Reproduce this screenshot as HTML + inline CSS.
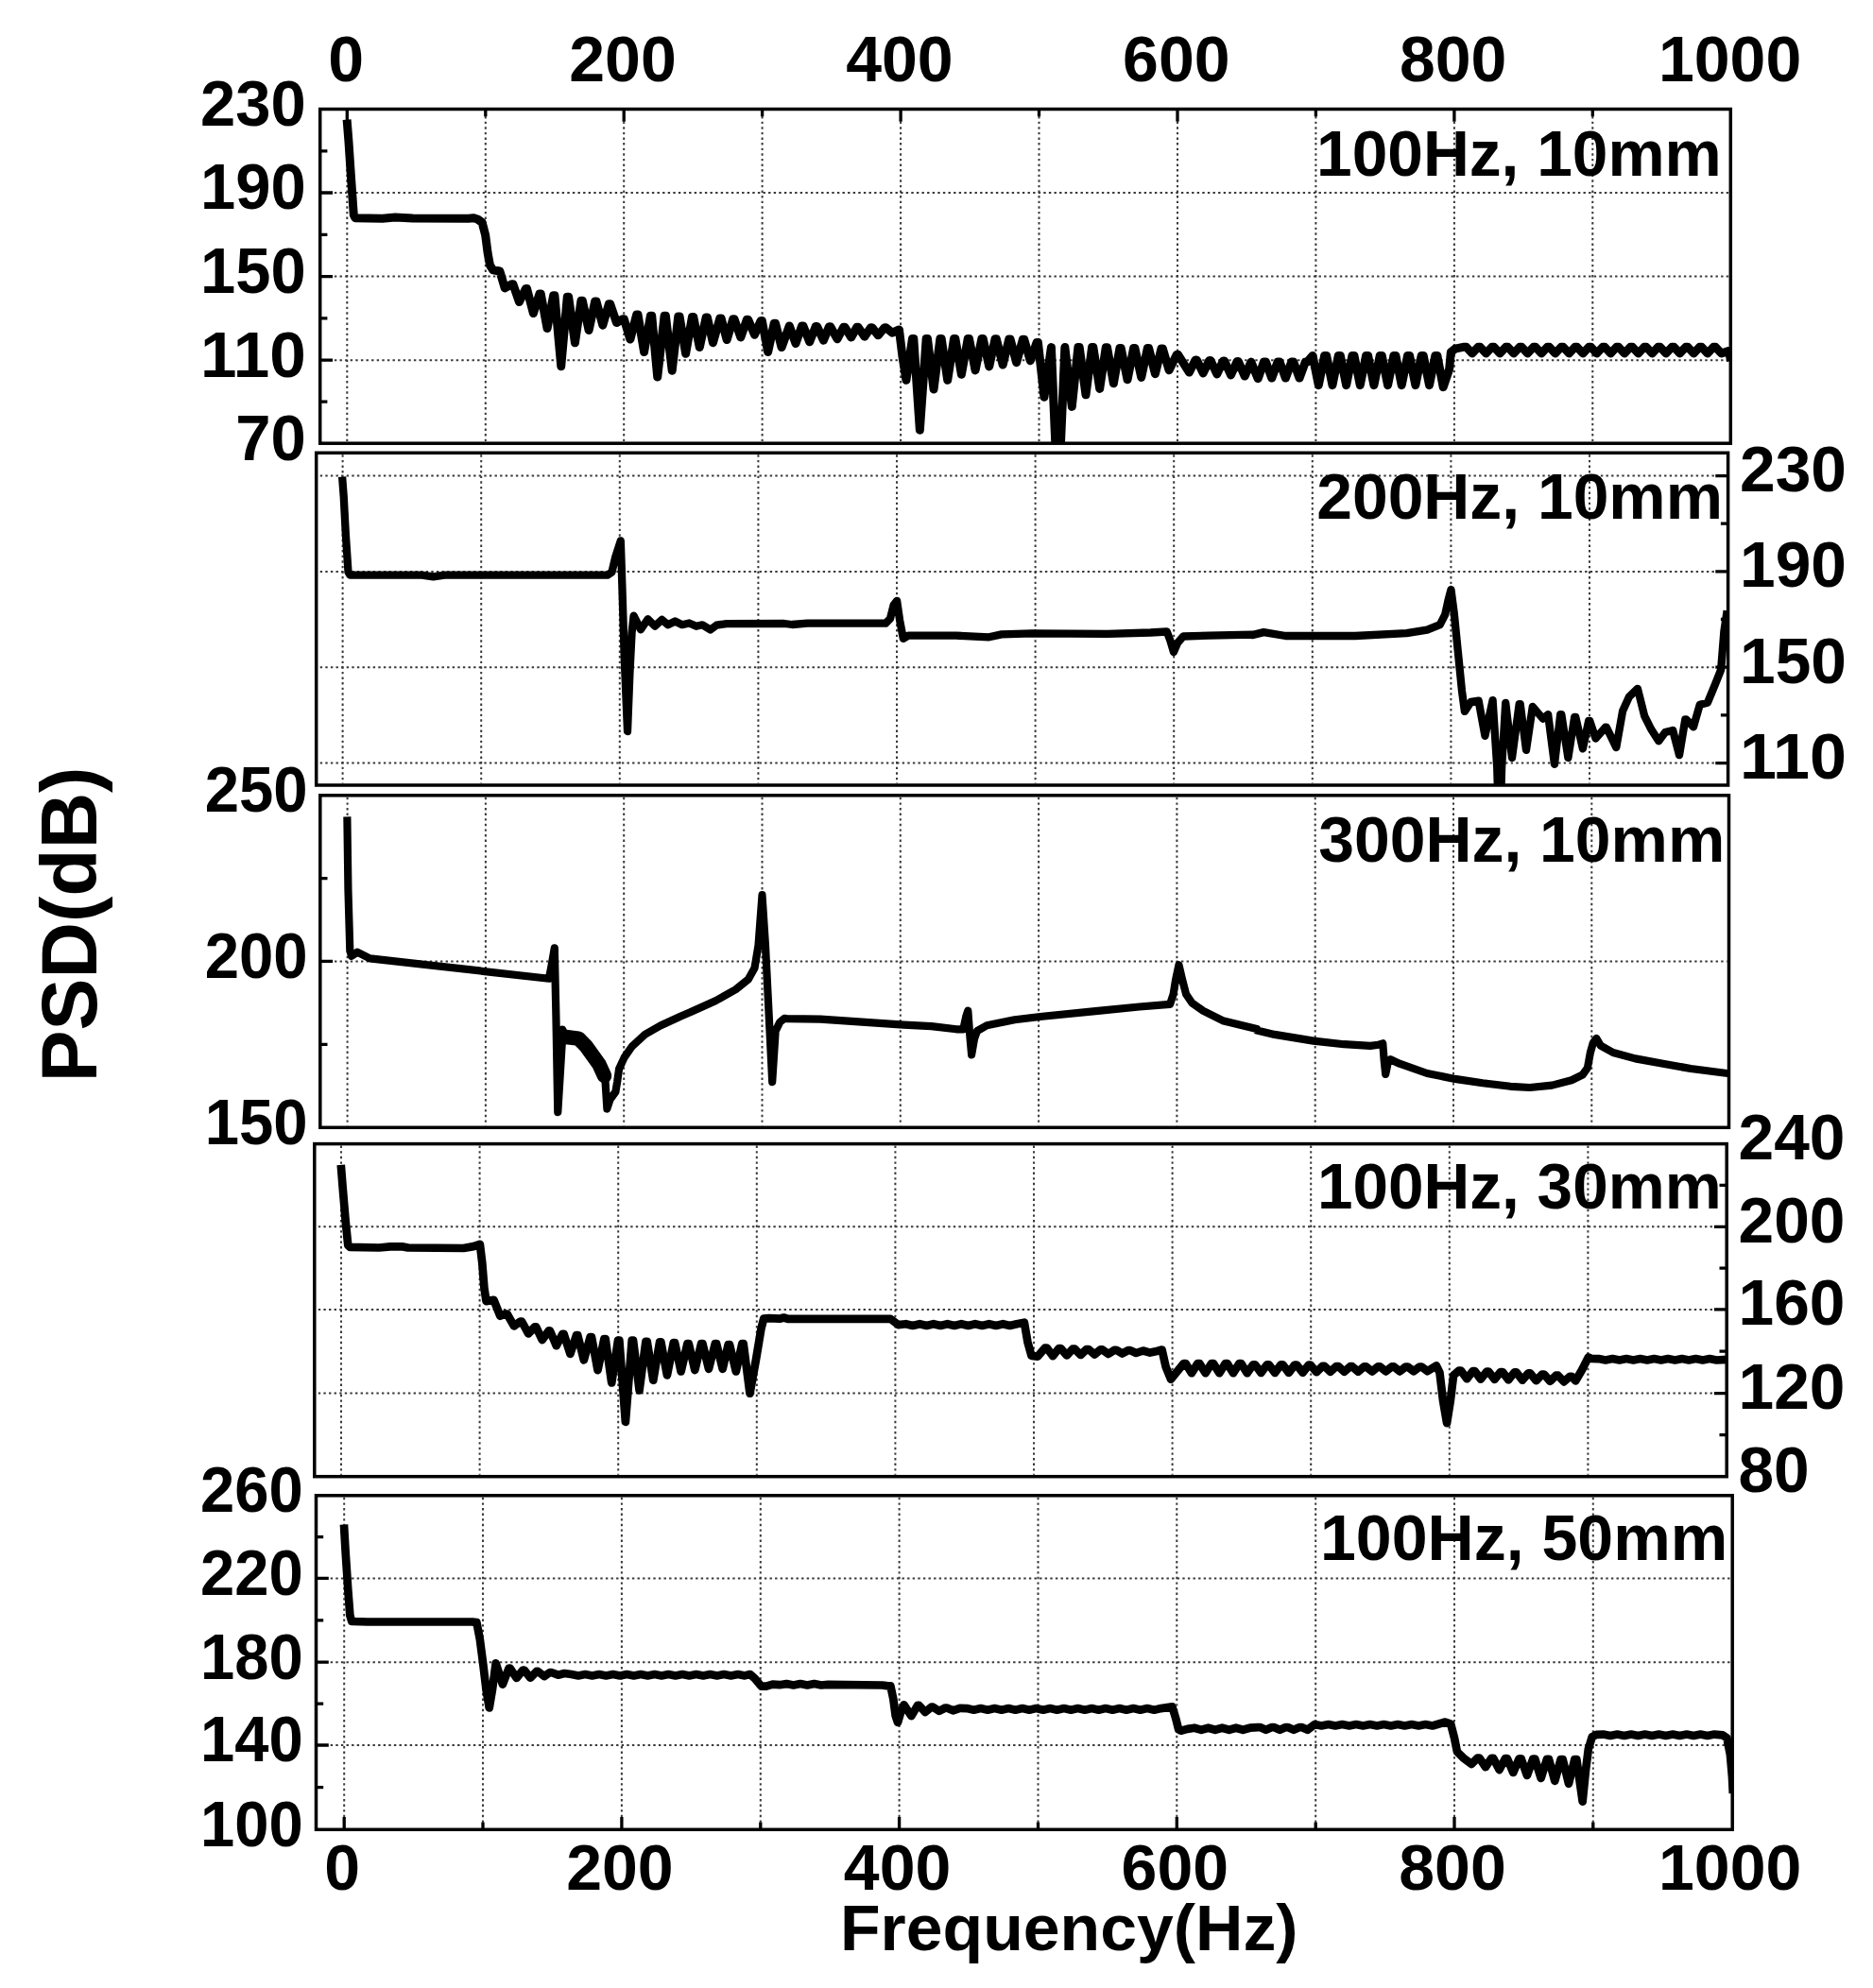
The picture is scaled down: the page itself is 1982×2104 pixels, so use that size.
<!DOCTYPE html>
<html lang="en"><head><meta charset="utf-8"><title>PSD(dB) vs Frequency(Hz)</title>
<style>html,body{margin:0;padding:0;background:#fff}body{width:1982px;height:2104px;overflow:hidden}svg{display:block}text{font-family:'Liberation Sans', Arial, Helvetica, sans-serif;font-weight:700;fill:#000}.g{stroke:#383838;stroke-width:2;stroke-dasharray:2.4 3.2;fill:none}.fr{stroke:#000;stroke-width:3.5;fill:none}.tk{stroke:#000;stroke-width:3.3;fill:none}.cv{stroke:#000;fill:none;stroke-linejoin:round;stroke-linecap:butt}</style></head><body>
<svg width="1982" height="2104" viewBox="0 0 1982 2104">
<rect x="0" y="0" width="1982" height="2104" fill="#fff"/>
<defs>
<clipPath id="c0"><rect x="338.7" y="115.5" width="1492.6" height="353.7"/></clipPath>
<clipPath id="c1"><rect x="334.7" y="479.3" width="1493.9" height="351.7"/></clipPath>
<clipPath id="c2"><rect x="338.8" y="841.8" width="1490.7" height="351.5"/></clipPath>
<clipPath id="c3"><rect x="332.8" y="1210.6" width="1494.4" height="352.1"/></clipPath>
<clipPath id="c4"><rect x="334.5" y="1582.8" width="1498.7" height="353.5"/></clipPath>
</defs>
<g id="panel1">
<path class="g" d="M367.3 117.5V467.2M513.8 117.5V467.2M660.2 117.5V467.2M806.6 117.5V467.2M953.1 117.5V467.2M1099.5 117.5V467.2M1246 117.5V467.2M1392.4 117.5V467.2M1538.9 117.5V467.2M1685.3 117.5V467.2"/>
<path class="g" d="M342.7 204H1829.3M342.7 292.6H1829.3M342.7 381.2H1829.3"/>
<g clip-path="url(#c0)"><path class="cv" stroke-width="9.0" transform="scale(1.0 1)" d="M367.11 126.6 368.97 150 371.64 190.1 374.31 227.5 375.92 230.7 404.75 231.2 418.09 230.1 436.78 230.9 495.51 231.2 500.85 230.7 505.39 232 510.19 235.5 513.66 248.8 516.07 267.5 518.47 280.8 521.67 285.7 528.88 287 534.22 304.9 541.56 300.8 542.89 300.8 549.43 319.6 556.24 305.6 557.58 305.6 564.38 331.6 570.92 311 572.26 311 579.07 347.6 585.61 312.8 586.94 312.8 593.75 387.7 600.29 314.2 601.62 314.2 608.43 362.8 614.97 318.2 616.31 318.2 623.11 349.5 629.65 319 630.99 319 637.79 344.2 644.34 321.7 645.67 321.7 652.48 341.5 659.02 337.7 660.35 337.7 666.89 359.1 673.7 332.9 675.03 332.9 681.58 372.5 688.38 334.2 689.72 334.2 695.72 399.1 703.06 334.2 704.4 334.2 711.21 392.2 717.75 335 719.08 335 725.62 374.3 732.43 335.5 733.76 335.5 740.3 367.6 747.11 336.1 748.45 336.1 754.45 362.8 761.79 336.9 763.13 336.9 769.14 359.6 775.68 337.7 777.01 337.7 783.82 357 790.36 338.2 791.69 338.2 798.5 354.3 805.04 339.5 806.37 339.5 812.65 372.5 819.19 342.2 820.52 342.2 827.06 367.6 835.34 344.9 842.01 363.6 848.55 344.9 849.89 344.9 856.7 361.8 863.24 345.4 864.57 345.4 871.38 360.2 877.38 345.7 878.72 345.7 886.06 358.8 892.6 346.2 893.93 346.2 900.74 357 906.75 346.2 908.08 346.2 914.89 356.2 921.43 346.7 922.77 346.7 929.31 354.8 936.11 346.7 937.45 346.7 944.26 352.2 951.46 348.9 954.93 377 958.94 402.3 965.48 358.5 966.81 358.5 973.35 455.2 980.16 358.5 981.49 358.5 988.04 412 994.84 358.5 996.18 358.5 1002.72 402.3 1009.52 358.5 1010.86 358.5 1017.4 396.2 1024.21 358.5 1025.54 358.5 1032.08 391.9 1038.89 358.5 1040.22 358.5 1046.76 387.9 1053.04 358.8 1054.37 358.8 1061.18 386.1 1067.72 359 1069.05 359 1075.6 383.7 1082.4 359.3 1083.74 359.3 1090.28 381.8 1097.08 362.5 1098.42 362.5 1104.96 420.2 1112.43 367.6 1118.57 510.4 1120.71 510.4 1126.85 367.6 1134.32 430.4 1140.86 367.6 1142.2 367.6 1149.01 417.8 1155.55 367.6 1156.88 367.6 1163.69 411.4 1170.23 367.8 1171.56 367.8 1178.37 405.8 1184.91 368.6 1186.25 368.6 1193.05 401.8 1199.59 368.6 1200.93 368.6 1207.74 399.4 1214.28 368.6 1215.61 368.6 1222.42 395.7 1228.96 368.9 1230.29 368.9 1237.1 391.7 1245.24 375.3 1246.58 375.3 1258.46 394.1 1265 380.9 1266.33 380.9 1273.14 394.9 1279.68 381.5 1281.01 381.5 1287.82 395.9 1294.36 382 1295.7 382 1302.5 397 1309.04 382.5 1310.38 382.5 1317.19 398.1 1323.86 383.1 1331.2 400.7 1337.42 383 1339.47 383 1345.77 400.1 1352.07 383 1354.12 383 1360.42 400.1 1366.71 383 1368.77 383 1375.06 400.1 1381.36 383 1383.41 383 1389.02 376.4 1395.32 407.7 1401.62 376.4 1403.67 376.4 1409.97 407.7 1416.27 376.4 1418.32 376.4 1424.62 407.7 1430.92 376.4 1432.97 376.4 1439.27 407.7 1445.57 376.4 1447.62 376.4 1453.92 407.7 1460.22 376.4 1462.27 376.4 1468.57 407.7 1474.87 376.4 1476.92 376.4 1483.22 407.7 1489.52 376.4 1491.57 376.4 1497.87 407.7 1504.17 376.4 1506.22 376.4 1512.52 407.7 1518.82 376.4 1520.87 376.4 1527.17 409.7 1533.68 390.5 1535.31 372.8 1539.67 369.2 1549.53 367.2 1551.58 367.2 1557.88 374 1564.18 367.2 1566.23 367.2 1572.53 374 1578.83 367.2 1580.88 367.2 1587.18 374 1593.48 367.2 1595.53 367.2 1601.83 374 1608.13 367.2 1610.18 367.2 1616.48 374 1622.78 367.2 1624.83 367.2 1631.13 374 1637.43 367.2 1639.48 367.2 1645.78 374 1652.08 367.2 1654.13 367.2 1660.43 374 1666.73 367.2 1668.78 367.2 1675.08 374 1681.38 367.2 1683.43 367.2 1689.73 374 1696.03 367.2 1698.08 367.2 1704.38 374 1710.68 367.2 1712.73 367.2 1719.03 374 1725.33 367.2 1727.38 367.2 1733.68 374 1739.98 367.2 1742.03 367.2 1748.33 374 1754.62 367.2 1756.68 367.2 1762.97 374 1769.27 367.2 1771.32 367.2 1777.62 374 1783.92 367.2 1785.97 367.2 1792.27 374 1798.57 367.2 1800.62 367.2 1806.92 374 1813.22 367.2 1815.27 367.2 1821.57 374 1829.66 371.4 1831.57 382.3"/></g>
<path class="tk" d="M338.7 204h13.3M338.7 292.6h13.3M338.7 381.2h13.3M338.7 159.8h7.7M338.7 248.3h7.7M338.7 336.9h7.7M338.7 425.2h7.7M367.3 115.5v13.3M513.8 115.5v7.7M660.2 115.5v13.3M806.6 115.5v7.7M953.1 115.5v13.3M1099.5 115.5v7.7M1246 115.5v13.3M1392.4 115.5v7.7M1538.9 115.5v13.3M1685.3 115.5v7.7"/>
<rect class="fr" x="338.7" y="115.5" width="1492.6" height="353.7"/>
<text x="212" y="132.8" font-size="68" textLength="111.7" lengthAdjust="spacingAndGlyphs">230</text>
<text x="212" y="221.3" font-size="68" textLength="111.7" lengthAdjust="spacingAndGlyphs">190</text>
<text x="212" y="309.9" font-size="68" textLength="111.7" lengthAdjust="spacingAndGlyphs">150</text>
<text x="212" y="398.5" font-size="68" textLength="111.7" lengthAdjust="spacingAndGlyphs">110</text>
<text x="249.2" y="486.5" font-size="68" textLength="74.5" lengthAdjust="spacingAndGlyphs">70</text>
<text x="1393" y="185.9" font-size="68" textLength="428.8" lengthAdjust="spacingAndGlyphs">100Hz, 10mm</text>
</g>
<g id="panel2">
<path class="g" d="M362.6 481.3V829M509.2 481.3V829M655.8 481.3V829M802.4 481.3V829M949 481.3V829M1095.6 481.3V829M1242.2 481.3V829M1388.8 481.3V829M1535.4 481.3V829M1682 481.3V829"/>
<path class="g" d="M338.7 503.6H1826.6M338.7 604.9H1826.6M338.7 706.2H1826.6M338.7 807.6H1826.6"/>
<g clip-path="url(#c1)"><path class="cv" stroke-width="8.3" transform="scale(1.0 1)" d="M362.11 504.6 363.71 525.4 365.84 565.4 368.51 605.5 370.38 608.7 446.46 608.7 458.48 610.3 470.49 608.7 642.67 608.7 647.48 605.5 651.21 589.5 656.82 572.3 658.42 621.5 660.82 698.9 664.03 774 666.43 712.3 668.57 669.5 670.58 651.7 678.05 666.3 685.53 655.2 693 662.6 700.48 655.9 706.88 661.2 714.36 657.5 721.83 661.2 729.31 659.5 736.78 662.8 743.19 661.3 751.73 666.5 758.14 661.7 768.81 660.1 830 660 838.35 661 854.36 659.7 937.12 659.7 941.92 654.9 945.66 640.2 949.13 635.8 952.07 656.2 955.81 675.8 961.15 672.7 1011.87 672.7 1046.57 674.3 1059.92 671.4 1091.95 670.3 1172.04 670.9 1217.42 669.5 1234.77 668.5 1238.24 677.6 1241.98 690 1246.25 680.2 1252.12 673.5 1278.82 672.7 1325 671.7 1325 672.1 1337.25 669.1 1360.4 673 1433.92 673 1488.38 670.2 1510.16 666.7 1523.77 661.2 1529.22 650.4 1532.49 635.4 1535.48 624 1538.75 649 1542.84 689.8 1546.92 730.7 1549.91 752.9 1556.45 742.9 1564.62 741.6 1571.43 778.8 1579.59 741.1 1584.22 812.4 1585.59 858.7 1587.76 858.7 1589.13 812.4 1593.21 743.8 1600.02 802 1607.64 745.2 1608.73 745.2 1614.99 793.8 1621.8 747.9 1632.69 760.6 1638.14 756.1 1644.95 808.8 1651.21 756.1 1652.3 756.1 1659.38 802 1666.18 758.8 1667.27 758.8 1674.9 792.4 1681.16 762.9 1682.25 762.9 1688.51 781.5 1698.86 769.7 1699.95 769.7 1710.3 791.1 1717.1 752.5 1723.91 737.5 1732.9 728.8 1740.25 757.9 1747.06 771.5 1755.22 784.3 1762.03 775.1 1770.2 772.9 1777.01 799.2 1783.27 761.5 1784.36 761.5 1791.98 769.3 1798.79 745.7 1806.96 743.7 1815.13 723.9 1821.12 708.9 1824.39 668.1 1827.65 646.3"/></g>
<path class="tk" d="M1828.6 503.6h-13.3M1828.6 604.9h-13.3M1828.6 706.2h-13.3M1828.6 807.6h-13.3M1828.6 554.2h-7.7M1828.6 655.5h-7.7M1828.6 756.9h-7.7"/>
<rect class="fr" x="334.7" y="479.3" width="1493.9" height="351.7"/>
<text x="1841" y="520" font-size="68" textLength="112.9" lengthAdjust="spacingAndGlyphs">230</text>
<text x="1841" y="621.3" font-size="68" textLength="112.9" lengthAdjust="spacingAndGlyphs">190</text>
<text x="1841" y="722.6" font-size="68" textLength="112.9" lengthAdjust="spacingAndGlyphs">150</text>
<text x="1841" y="824" font-size="68" textLength="112.9" lengthAdjust="spacingAndGlyphs">110</text>
<text x="1393.2" y="548.5" font-size="68" textLength="429.8" lengthAdjust="spacingAndGlyphs">200Hz, 10mm</text>
</g>
<g id="panel3">
<path class="g" d="M367.6 843.8V1191.3M513.9 843.8V1191.3M660.2 843.8V1191.3M806.5 843.8V1191.3M952.8 843.8V1191.3M1099.1 843.8V1191.3M1245.4 843.8V1191.3M1391.7 843.8V1191.3M1538 843.8V1191.3M1684.3 843.8V1191.3"/>
<path class="g" d="M342.8 1017.4H1827.5"/>
<g clip-path="url(#c2)"><path class="cv" stroke-width="8.2" transform="scale(1.0 1)" d="M367.37 864.4 368.44 941.8 370.31 1005.8 371.91 1011.7 378.05 1007.7 391.4 1014.4 580.93 1035.7 583.6 1021.9 586.81 1003.3 588.41 1075.3 590.28 1177.1 592.97 1133.5 594.71 1104.6 595.28 1089.6 598.18 1097.7 612.06 1099.3 620.16 1108.7 634.04 1127.7 640.4 1142.2 642.37 1173.6 645.61 1163.6 651.39 1155.5 653.13 1145.1 655.09 1131.2 660.65 1119.1 668.75 1107.5 682.63 1094.8 698.82 1085.5 720 1075.7 730.43 1071.3 757.12 1059.2 778.48 1047.2 791.83 1036.5 798.5 1024.5 802.5 1000.5 806.51 947.2 809.98 1000.5 813.72 1075.3 817.19 1145.1 820.66 1091.3 825.19 1081.9 830 1077.9 832.86 1078.1 868.09 1078.7 912.14 1081.7 956.19 1084.6 985.55 1086.1 1011.98 1089.3 1019.32 1089.3 1022.26 1075.8 1024.31 1069.6 1026.07 1093.4 1028.13 1116.3 1031.06 1099.3 1034 1091.1 1044.28 1085.2 1073.64 1079.3 1103.01 1075.8 1161.74 1069.9 1205.78 1065.5 1238.08 1062.9 1241.61 1052.3 1243.96 1037.6 1247.48 1021.2 1251.3 1037.6 1255.11 1052.3 1261.57 1061.7 1273.32 1069.9 1293.87 1080.2 1329.99 1089 1329.94 1090.5 1348.73 1094.9 1389.84 1101.6 1422.14 1105.2 1450.04 1106.9 1458.84 1105.7 1463.25 1104.3 1464.72 1122.8 1466.19 1136.9 1468.53 1125.7 1471.47 1121.3 1480.87 1125.7 1510.23 1136 1539.6 1141.9 1568.96 1146.3 1598.32 1149.8 1618.88 1151 1642.37 1148.6 1662.93 1143.3 1674.67 1137.5 1679.96 1130.1 1682.89 1114 1685.83 1103.7 1689.35 1099 1693.76 1106.6 1706.97 1114 1730.46 1120.4 1759.83 1125.7 1789.19 1131 1830.3 1136.3"/></g>
<path class="cv" stroke-width="15.5" style="stroke-linecap:round" clip-path="url(#c2)" d="M596.8 1097.2 612.1 1099.1 620.2 1107.2 634 1126.6 639.6 1138.7"/>
<path class="tk" d="M338.8 1017.4h13.3M338.8 929.6h7.7M338.8 1105.3h7.7"/>
<rect class="fr" x="338.8" y="841.8" width="1490.7" height="351.5"/>
<text x="216.7" y="859.1" font-size="68" textLength="108.9" lengthAdjust="spacingAndGlyphs">250</text>
<text x="216.7" y="1034.7" font-size="68" textLength="108.9" lengthAdjust="spacingAndGlyphs">200</text>
<text x="216.7" y="1210.6" font-size="68" textLength="108.9" lengthAdjust="spacingAndGlyphs">150</text>
<text x="1395.2" y="911.6" font-size="68" textLength="430.1" lengthAdjust="spacingAndGlyphs">300Hz, 10mm</text>
</g>
<g id="panel4">
<path class="g" d="M361 1212.6V1560.7M507.6 1212.6V1560.7M654.2 1212.6V1560.7M800.8 1212.6V1560.7M947.4 1212.6V1560.7M1094 1212.6V1560.7M1240.6 1212.6V1560.7M1387.2 1212.6V1560.7M1533.8 1212.6V1560.7M1680.4 1212.6V1560.7"/>
<path class="g" d="M336.8 1298.3H1825.2M336.8 1385.9H1825.2M336.8 1474.6H1825.2"/>
<g clip-path="url(#c3)"><path class="cv" stroke-width="8.7" transform="scale(1.0 1)" d="M360.77 1232.9 362.64 1256.4 365.58 1291.1 368.25 1317.8 370.38 1319.9 401.08 1320.5 413.09 1319.4 426.44 1319.4 431.78 1320.5 490.51 1321 501.19 1319.1 507.86 1316.8 510.26 1336.5 512.4 1363.2 514.54 1377.1 522.54 1375.8 529.22 1392.7 535.22 1390.5 536.56 1390.5 543.9 1403.4 550.71 1398.5 552.04 1398.5 559.12 1411.4 565.92 1404.4 567.26 1404.4 573.8 1418.1 580.61 1408.4 581.94 1408.4 588.75 1424.2 595.29 1411.8 596.62 1411.8 603.43 1432.8 609.97 1413.2 611.31 1413.2 617.85 1439.4 624.65 1415 625.99 1415 632.53 1450.1 639.34 1417.2 640.67 1417.2 647.21 1463.5 654.02 1418.5 655.35 1418.5 661.89 1504.8 668.7 1418.5 670.03 1418.5 676.58 1471.5 683.38 1419.8 684.72 1419.8 691.26 1460.8 698.06 1420.4 699.4 1420.4 705.94 1455.5 712.75 1421.2 714.08 1421.2 720.62 1451.5 727.43 1422 728.76 1422 735.3 1450.1 742.11 1422 743.45 1422 749.99 1448.8 756.79 1422 758.13 1422 764.67 1448.8 770.68 1423 772.01 1423 778.82 1451.5 785.36 1422 786.69 1422 793.5 1474.7 800.17 1437.9 805.51 1405.9 808.18 1395.7 813.52 1395.2 825 1395.7 829.32 1394.5 833.73 1395.9 942.38 1395.9 950.6 1402.1 958.53 1401.2 965.87 1403 973.21 1401.2 980.55 1403 987.89 1401.2 995.23 1403 1002.57 1401.2 1009.91 1403 1017.26 1401.2 1024.6 1403 1031.94 1401.2 1039.28 1403 1046.62 1401.2 1053.96 1403 1061.3 1401.2 1068.64 1403 1075.98 1401.2 1083.91 1399.7 1087.44 1420.3 1091.55 1435 1098.01 1435.6 1105.79 1426.7 1107.84 1426.7 1114.16 1435.1 1120.47 1427.1 1122.53 1427.1 1128.84 1434.5 1135.15 1427.6 1137.21 1427.6 1143.52 1434 1149.83 1428 1151.89 1428 1158.2 1433.5 1164.52 1428.4 1166.57 1428.4 1172.89 1433 1179.2 1428.8 1181.25 1428.8 1187.57 1432.5 1193.88 1429.1 1195.94 1429.1 1202.25 1432 1209.59 1429.5 1216.93 1431.6 1224.27 1429.9 1229.56 1428.5 1233.67 1446.7 1238.96 1459.7 1252.61 1443.1 1254.67 1443.1 1260.98 1453.2 1267.29 1443.1 1269.35 1443.1 1275.66 1453.2 1281.97 1443.1 1284.03 1443.1 1290.34 1453.2 1296.66 1443.1 1298.71 1443.1 1305.02 1453.2 1311.34 1443.1 1313.39 1443.1 1319.71 1453.2 1326.05 1444.3 1328.11 1444.3 1334.42 1452.9 1340.73 1444.4 1342.79 1444.4 1349.1 1452.9 1355.42 1444.4 1357.47 1444.4 1363.78 1452.8 1370.1 1444.5 1372.15 1444.5 1378.47 1452.7 1384.78 1444.7 1386.84 1444.7 1393.15 1452.2 1399.46 1445.9 1401.52 1445.9 1407.83 1451.7 1414.14 1446.1 1416.2 1446.1 1422.51 1451.7 1428.83 1446.2 1430.88 1446.2 1437.19 1451.6 1443.51 1446.3 1445.56 1446.3 1451.88 1451.5 1458.19 1446.4 1460.25 1446.4 1466.56 1451.4 1472.87 1446.4 1474.93 1446.4 1481.24 1451.4 1487.55 1446.5 1489.61 1446.5 1495.92 1451.3 1502.24 1446.6 1504.29 1446.6 1510.61 1451.2 1519.91 1445.3 1523.44 1452.6 1526.96 1482 1531.07 1506.1 1534.89 1482 1538.12 1455.5 1543.85 1450.7 1545.9 1450.7 1552.21 1459.2 1558.53 1451.1 1560.58 1451.1 1566.9 1459.6 1573.21 1451.6 1575.27 1451.6 1581.58 1459.9 1587.89 1452 1589.95 1452 1596.26 1460.3 1602.57 1452.4 1604.63 1452.4 1610.94 1460.7 1617.26 1453.4 1619.31 1453.4 1625.63 1461.2 1631.94 1454.5 1633.99 1454.5 1640.31 1461.8 1646.62 1455.7 1648.68 1455.7 1654.99 1462.3 1661.3 1456.8 1663.36 1456.8 1667.32 1461.4 1674.08 1449.7 1680.83 1436.4 1684.35 1437.9 1691.7 1438.1 1699.04 1439.5 1706.38 1438.1 1713.72 1439.5 1721.06 1438.1 1728.4 1439.5 1735.74 1438.1 1743.08 1439.5 1750.42 1438.1 1757.76 1439.5 1765.11 1438.1 1772.45 1439.5 1779.79 1438.1 1787.13 1439.5 1794.47 1438.1 1801.81 1439.5 1809.15 1438.1 1816.49 1439.5 1827.65 1438.8"/></g>
<path class="tk" d="M1827.2 1298.3h-13.3M1827.2 1385.9h-13.3M1827.2 1474.6h-13.3M1827.2 1254.4h-7.7M1827.2 1342.1h-7.7M1827.2 1430.2h-7.7M1827.2 1518.7h-7.7"/>
<rect class="fr" x="332.8" y="1210.6" width="1494.4" height="352.1"/>
<text x="1839.5" y="1227" font-size="68" textLength="112.9" lengthAdjust="spacingAndGlyphs">240</text>
<text x="1839.5" y="1314.7" font-size="68" textLength="112.9" lengthAdjust="spacingAndGlyphs">200</text>
<text x="1839.5" y="1402.3" font-size="68" textLength="112.9" lengthAdjust="spacingAndGlyphs">160</text>
<text x="1839.5" y="1491" font-size="68" textLength="112.9" lengthAdjust="spacingAndGlyphs">120</text>
<text x="1839.5" y="1579.1" font-size="68" textLength="75.2" lengthAdjust="spacingAndGlyphs">80</text>
<text x="1394" y="1278.5" font-size="68" textLength="427.7" lengthAdjust="spacingAndGlyphs">100Hz, 30mm</text>
</g>
<g id="panel5">
<path class="g" d="M364.2 1584.8V1934.3M511 1584.8V1934.3M657.9 1584.8V1934.3M804.8 1584.8V1934.3M951.6 1584.8V1934.3M1098.5 1584.8V1934.3M1245.3 1584.8V1934.3M1392.2 1584.8V1934.3M1539 1584.8V1934.3M1685.8 1584.8V1934.3"/>
<path class="g" d="M338.5 1670.4H1831.2M338.5 1759.2H1831.2M338.5 1847H1831.2"/>
<g clip-path="url(#c4)"><path class="cv" stroke-width="8.7" transform="scale(1.0 1)" d="M363.97 1613.4 365.58 1641.7 368.25 1681.8 370.38 1709.8 372.25 1716 389.07 1716.5 499.85 1716.5 504.39 1717.1 507.86 1735.2 511.33 1761.9 514.54 1788.6 517.74 1807.4 520.94 1788.6 524.68 1760.3 531.89 1782.6 538.43 1765.7 539.76 1765.7 546.57 1775.9 553.38 1767.6 554.71 1767.6 561.25 1775.7 567.79 1768.9 569.13 1768.9 575.93 1774.1 581.94 1770 583.28 1770 590.62 1772.7 597.29 1771 604.63 1772 611.97 1773.4 619.31 1772 626.66 1773.4 634 1772 641.34 1773.4 648.68 1772 656.02 1773.4 663.36 1772 670.7 1773.4 678.04 1772 685.38 1773.4 692.73 1772 700.07 1773.4 707.41 1772 714.75 1773.4 722.09 1772 729.43 1773.4 736.77 1772 744.11 1773.4 751.45 1772 758.8 1773.4 766.14 1772 773.48 1773.4 780.82 1772 788.16 1773.4 793.77 1772 798.84 1776.5 805.51 1784.6 810.85 1784.7 817.53 1782.7 825 1783.2 832.26 1782.1 839.6 1783.5 846.94 1782.1 854.28 1783.5 861.62 1782.1 868.97 1783.5 876.31 1782.9 933.57 1783.5 938.27 1784.1 942.38 1784.3 945.31 1798.2 947.66 1815.8 950.01 1822.9 952.95 1812.9 956.47 1804.3 964.4 1816.1 971.01 1804.9 972.47 1804.9 979.08 1812 985.69 1806.6 987.16 1806.6 993.76 1810.8 1000.37 1807.5 1001.84 1807.5 1008.45 1810.3 1015.79 1807.8 1023.13 1808.1 1030.47 1809.7 1037.81 1808.1 1045.15 1809.7 1052.49 1808.1 1059.83 1809.7 1067.17 1808.1 1074.52 1809.7 1081.86 1808.1 1089.2 1809.7 1096.54 1808.1 1103.88 1809.7 1111.22 1808.1 1118.56 1809.7 1125.9 1808.1 1133.24 1809.7 1140.59 1808.1 1147.93 1809.7 1155.27 1808.1 1162.61 1809.7 1169.95 1808.1 1177.29 1809.7 1184.63 1808.1 1191.97 1809.7 1199.31 1808.1 1206.65 1809.7 1214 1808.1 1221.34 1809.7 1228.68 1808.1 1240.42 1806.3 1244.24 1818.7 1247.18 1830.5 1249.53 1831.7 1256.57 1829.9 1263.91 1828.7 1271.26 1830.8 1278.6 1828.7 1285.94 1830.8 1293.28 1828.7 1300.62 1830.8 1307.96 1828.7 1315.3 1830.8 1322.64 1828.7 1331.26 1828.1 1333.31 1828.1 1339.63 1830.8 1345.94 1828.1 1347.99 1828.1 1354.31 1830.8 1360.62 1828.1 1362.68 1828.1 1368.99 1830.8 1375.3 1828.1 1377.36 1828.1 1383.67 1830.8 1391.01 1825.1 1398.35 1826.5 1405.7 1825.1 1413.04 1826.5 1420.38 1825.1 1427.72 1826.5 1435.06 1825.1 1442.4 1826.5 1449.74 1825.1 1457.08 1826.5 1464.42 1825.1 1471.76 1826.5 1479.11 1825.1 1486.45 1826.5 1493.79 1825.1 1501.13 1826.5 1508.47 1825.1 1515.81 1826.5 1524.33 1824 1529.32 1822.5 1535.19 1824.6 1539.01 1839.3 1541.95 1854 1548.41 1860.4 1557.21 1866.9 1563.53 1860.7 1565.58 1860.7 1571.9 1870.2 1578.21 1860.9 1580.27 1860.9 1586.58 1873.1 1592.89 1861.1 1594.95 1861.1 1601.26 1876 1607.57 1861.3 1609.63 1861.3 1615.94 1879 1622.26 1861.6 1624.31 1861.6 1630.63 1881.9 1636.94 1861.8 1638.99 1861.8 1645.31 1884.8 1651.62 1862 1653.68 1862 1659.99 1887.8 1666.3 1862.1 1668.36 1862.1 1674.67 1906.6 1677.9 1874.5 1680.84 1851 1684.66 1838.4 1689.35 1835.8 1696.7 1835.6 1704.04 1837 1711.38 1835.6 1718.72 1837 1726.06 1835.6 1733.4 1837 1740.74 1835.6 1748.08 1837 1755.42 1835.6 1762.76 1837 1770.11 1835.6 1777.45 1837 1784.79 1835.6 1792.13 1837 1799.47 1835.6 1806.81 1837 1814.15 1835.6 1822.96 1836.3 1827.37 1839.3 1830.89 1856.9 1832.95 1880.4 1833.83 1898"/></g>
<path class="tk" d="M334.5 1670.4h13.3M334.5 1759.2h13.3M334.5 1847h13.3M334.5 1626.6h7.7M334.5 1714.8h7.7M334.5 1803.1h7.7M334.5 1891.7h7.7M364.2 1936.3v-13.3M511 1936.3v-7.7M657.9 1936.3v-13.3M804.8 1936.3v-7.7M951.6 1936.3v-13.3M1098.5 1936.3v-7.7M1245.3 1936.3v-13.3M1392.2 1936.3v-7.7M1539 1936.3v-13.3M1685.8 1936.3v-7.7"/>
<rect class="fr" x="334.5" y="1582.8" width="1498.7" height="353.5"/>
<text x="212.1" y="1600.1" font-size="68" textLength="108.7" lengthAdjust="spacingAndGlyphs">260</text>
<text x="212.1" y="1687.7" font-size="68" textLength="108.7" lengthAdjust="spacingAndGlyphs">220</text>
<text x="212.1" y="1776.5" font-size="68" textLength="108.7" lengthAdjust="spacingAndGlyphs">180</text>
<text x="212.1" y="1864.3" font-size="68" textLength="108.7" lengthAdjust="spacingAndGlyphs">140</text>
<text x="212.1" y="1953.6" font-size="68" textLength="108.7" lengthAdjust="spacingAndGlyphs">100</text>
<text x="1397" y="1650.5" font-size="68" textLength="431.2" lengthAdjust="spacingAndGlyphs">100Hz, 50mm</text>
</g>
<text x="366.1" y="85.6" font-size="68" text-anchor="middle">0</text>
<text x="659" y="85.6" font-size="68" text-anchor="middle">200</text>
<text x="951.9" y="85.6" font-size="68" text-anchor="middle">400</text>
<text x="1244.8" y="85.6" font-size="68" text-anchor="middle">600</text>
<text x="1537.7" y="85.6" font-size="68" text-anchor="middle">800</text>
<text x="1830.6" y="85.6" font-size="68" text-anchor="middle">1000</text>
<text x="362.2" y="2000" font-size="68" text-anchor="middle">0</text>
<text x="655.9" y="2000" font-size="68" text-anchor="middle">200</text>
<text x="949.6" y="2000" font-size="68" text-anchor="middle">400</text>
<text x="1243.3" y="2000" font-size="68" text-anchor="middle">600</text>
<text x="1537" y="2000" font-size="68" text-anchor="middle">800</text>
<text x="1830.7" y="2000" font-size="68" text-anchor="middle">1000</text>
<text x="889" y="2064.3" font-size="68" textLength="484.5" lengthAdjust="spacingAndGlyphs">Frequency(Hz)</text>
<text transform="translate(102.2 1145.3) rotate(-90)" x="0" y="0" font-size="84" textLength="333.8" lengthAdjust="spacingAndGlyphs">PSD(dB)</text>
</svg></body></html>
